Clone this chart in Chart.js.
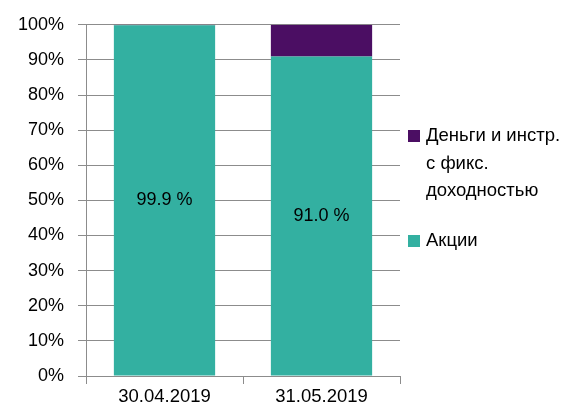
<!DOCTYPE html>
<html>
<head>
<meta charset="utf-8">
<script src="https://cdn.jsdelivr.net/npm/chart.js@4/dist/chart.umd.min.js"></script>
<style>
  html, body { margin: 0; padding: 0; background: #fff; }
  #wrap { width: 567px; height: 411px; }
</style>
</head>
<body>
<div id="wrap"><canvas id="chart" width="567" height="411"></canvas></div>
<script>
const dates = ["30.04.2019", "31.05.2019"];
const stocks = [99.9, 91.0];
const fixedIncome = [0.1, 9.0];
const yTicks = [0, 10, 20, 30, 40, 50, 60, 70, 80, 90, 100];

const TEAL = "#33b0a1";
const PURPLE = "#4b0e63";
const FONT = "'Liberation Sans', Arial, sans-serif";

// labels inside the teal bars + the legend on the right
const extras = {
  id: "extras",
  afterDatasetsDraw(chart) {
    const ctx = chart.ctx;
    const meta = chart.getDatasetMeta(0);
    ctx.save();
    ctx.fillStyle = "#000";
    ctx.font = "18px " + FONT;
    ctx.textAlign = "center";
    ctx.textBaseline = "middle";
    meta.data.forEach((bar, i) => {
      const mid = (bar.y + bar.base) / 2;
      ctx.fillText(stocks[i].toFixed(1) + " %", bar.x, mid);
    });

    const items = [
      { color: PURPLE, lines: ["Деньги и инстр.", "с фикс.", "доходностью"], y: 136 },
      { color: TEAL, lines: ["Акции"], y: 241 },
    ];
    ctx.textAlign = "left";
    items.forEach((it) => {
      ctx.fillStyle = it.color;
      ctx.fillRect(408, it.y - 6, 12, 12);
      ctx.fillStyle = "#000";
      ctx.font = "18.5px " + FONT;
      it.lines.forEach((t, k) => ctx.fillText(t, 426, it.y + k * 27.5));
    });
    ctx.restore();
  },
};

new Chart(document.getElementById("chart"), {
  type: "bar",
  data: {
    labels: dates,
    datasets: [
      {
        label: "Акции",
        data: stocks,
        backgroundColor: TEAL,
        categoryPercentage: 1,
        barPercentage: 0.645,
      },
      {
        label: "Деньги и инстр. с фикс. доходностью",
        data: fixedIncome,
        backgroundColor: PURPLE,
        categoryPercentage: 1,
        barPercentage: 0.645,
      },
    ],
  },
  options: {
    responsive: false,
    animation: false,
    layout: { padding: { top: 18, right: 167, left: 0, bottom: 0 } },
    plugins: {
      legend: { display: false },
      tooltip: { enabled: false },
    },
    scales: {
      x: {
        stacked: true,
        afterFit: (s) => { s.height = 35; },
        grid: { offset: true, drawOnChartArea: false, color: "#8c8c8c", tickLength: 8 },
        border: { color: "#8c8c8c" },
        ticks: { color: "#000", font: { family: FONT, size: 18.5 }, padding: 2 },
      },
      y: {
        stacked: true,
        min: 0,
        max: 100,
        afterFit: (s) => { s.width = 86; },
        afterBuildTicks: (s) => { s.ticks = yTicks.map((v) => ({ value: v })); },
        grid: { color: "#8c8c8c", tickLength: 8 },
        border: { color: "#8c8c8c" },
        ticks: {
          color: "#000",
          font: { family: FONT, size: 18 },
          padding: 14,
          callback: (v) => v + "%",
        },
      },
    },
  },
  plugins: [extras],
});
</script>
</body>
</html>
